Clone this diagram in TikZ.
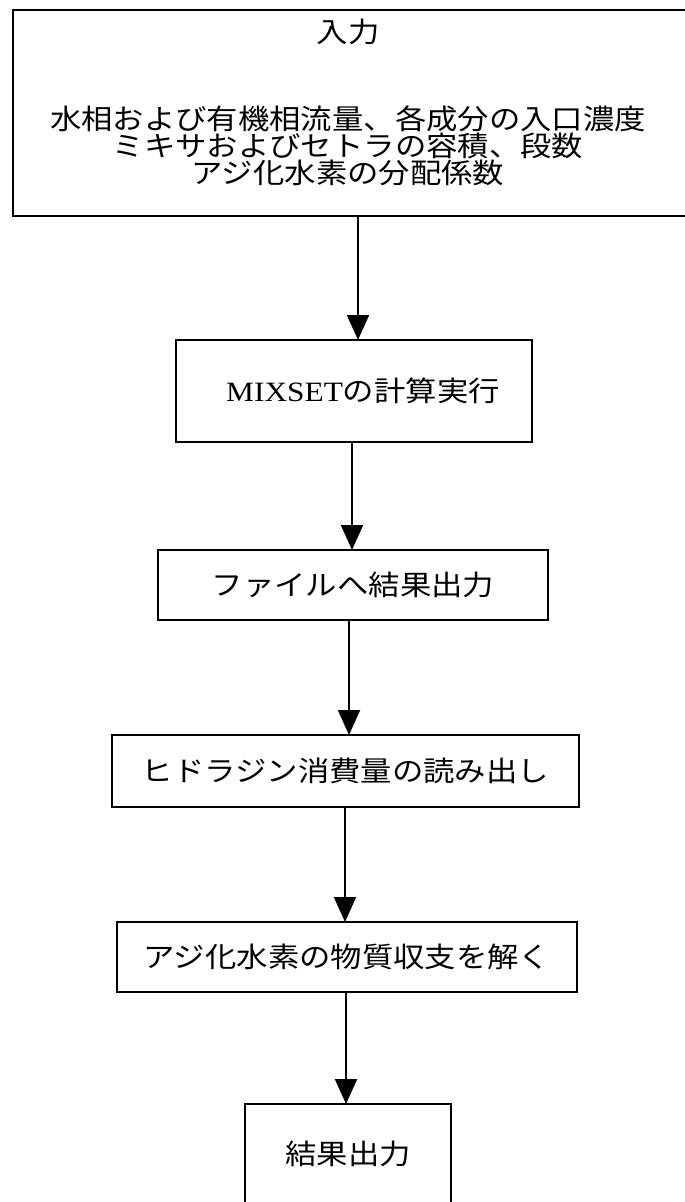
\documentclass[tikz,border=0pt]{standalone}
\usepackage{fontspec}
\setmainfont{Liberation Serif}
\newfontfamily\jp{Noto Sans CJK JP}
\usetikzlibrary{arrows.meta}
\newcommand{\jt}[1]{\scalebox{1.12}[1]{\jp #1}}
\begin{document}
\begin{tikzpicture}[x=1pt,y=-1pt,
  box/.style={draw, line width=2.6pt, inner sep=0pt, outer sep=0pt,
    font=\fontsize{28}{27}\selectfont},
  txt/.style={inner sep=0pt, font=\fontsize{28}{27}\selectfont},
  arr/.style={line width=2pt, -{Triangle[width=22pt,length=25pt]}}]
\useasboundingbox (0,0) rectangle (685,1202);
\clip (0,0) rectangle (685,1202);
% boxes
\node[box, minimum width=680pt, minimum height=206pt] (in) at (353,113) {};
\node[txt] (t0) at (348,32) {\jt{入力}};
\node[txt, align=center] (t1) at (348,146)
  {\jt{水相および有機相流量、各成分の入口濃度}\\
   \jt{ミキサおよびセトラの容積、段数}\\
   \jt{アジ化水素の分配係数}};
\node[box, minimum width=356pt, minimum height=102pt] (b2) at (354,391)
  {\hspace{18pt}\scalebox{1.12}[1]{MIXSET\jp の計算実行}};
\node[box, minimum width=390pt, minimum height=70pt] (b3) at (353,585)
  {\jt{ファイルへ結果出力}};
\node[box, minimum width=467pt, minimum height=72pt] (b4) at (345.5,771)
  {\jt{ヒドラジン消費量の読み出し}};
\node[box, minimum width=460pt, minimum height=70pt] (b5) at (347,957)
  {\jt{アジ化水素の物質収支を解く}};
\node[box, minimum width=206pt, minimum height=99pt] (b6) at (348,1153.5)
  {\jt{結果出力}};
% arrow columns
\coordinate (x1) at (358,0);
\coordinate (x2) at (352,0);
\coordinate (x3) at (349,0);
\coordinate (x4) at (345,0);
\coordinate (x5) at (346,0);
\draw[arr] (in.south -| x1) -- (b2.north -| x1);
\draw[arr] (b2.south -| x2) -- (b3.north -| x2);
\draw[arr] (b3.south -| x3) -- (b4.north -| x3);
\draw[arr] (b4.south -| x4) -- (b5.north -| x4);
\draw[arr] (b5.south -| x5) -- (b6.north -| x5);
\end{tikzpicture}
\end{document}
